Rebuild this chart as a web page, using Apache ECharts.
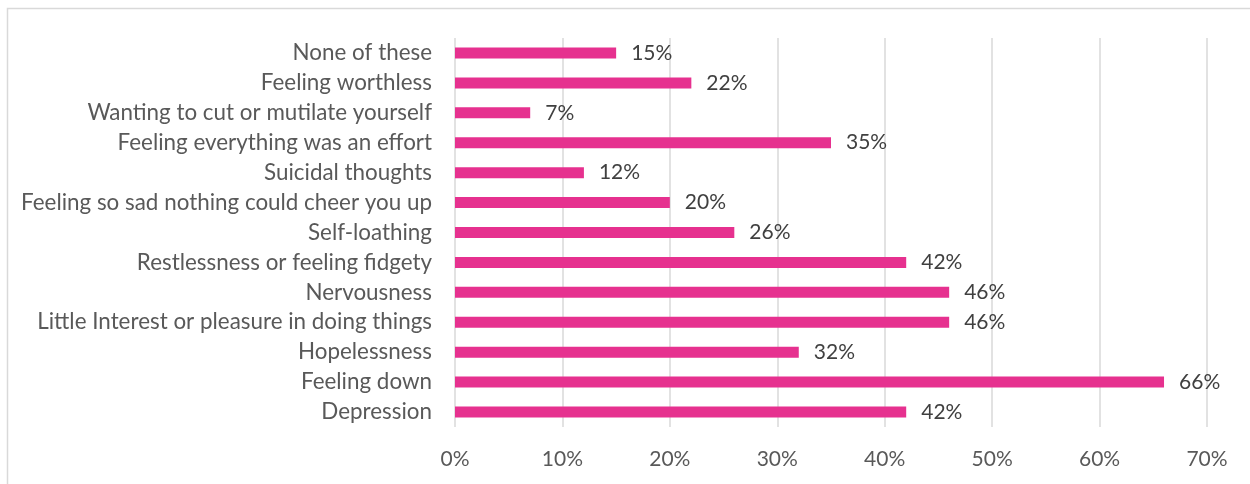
<!DOCTYPE html>
<html>
<head>
<meta charset="utf-8">
<script src="https://cdn.jsdelivr.net/npm/echarts@6/dist/echarts.min.js"></script>
<style>
html, body { margin: 0; padding: 0; background: #fff; }
#chart { width: 1250px; height: 484px; }
</style>
</head>
<body>
<div id="chart"></div>
<script>
// categories listed bottom to top, as the category axis draws them
var categories = ['Depression', 'Feeling down', 'Hopelessness',
    'Little Interest or pleasure in doing things', 'Nervousness',
    'Restlessness or feeling fidgety', 'Self-loathing',
    'Feeling so sad nothing could cheer you up', 'Suicidal thoughts',
    'Feeling everything was an effort', 'Wanting to cut or mutilate yourself',
    'Feeling worthless', 'None of these'];
var values = [42, 66, 32, 46, 46, 42, 26, 20, 12, 35, 7, 22, 15];
var xTicks = [0, 10, 20, 30, 40, 50, 60, 70];

window.addEventListener('load', function() {
    var myChart = echarts.init(document.getElementById('chart'));
    var font = 'Lato';
    var option = {
        animation: false,
        graphic: [{
            type: 'rect',
            shape: { x: 7.5, y: 8.5, width: 1400, height: 700 },
            style: { fill: 'none', stroke: '#D9D9D9', lineWidth: 1.5 }
        }],
        grid: {
            left: 455,
            right: 43,
            top: 38,
            bottom: 57
        },
        xAxis: {
            type: 'value',
            min: xTicks[0],
            max: xTicks[xTicks.length - 1],
            interval: 10,
            axisLine: { show: false },
            axisTick: { show: false },
            splitLine: { lineStyle: { color: '#D9D9D9', width: 1.5 } },
            axisLabel: {
                formatter: '{value}%',
                color: '#595959',
                fontFamily: font,
                fontSize: 21,
                margin: 22
            }
        },
        yAxis: {
            type: 'category',
            data: categories,
            axisLine: { show: false },
            axisTick: { show: false },
            axisLabel: {
                color: '#595959',
                fontFamily: font,
                fontSize: 22.4,
                margin: 23
            }
        },
        series: [{
            type: 'bar',
            data: values,
            barWidth: 11,
            itemStyle: { color: '#E6318F' },
            label: {
                show: true,
                position: 'right',
                distance: 15,
                formatter: '{c}%',
                color: '#404040',
                fontFamily: font,
                fontSize: 21
            }
        }]
    };
    myChart.setOption(option);
});
</script>
</body>
</html>
